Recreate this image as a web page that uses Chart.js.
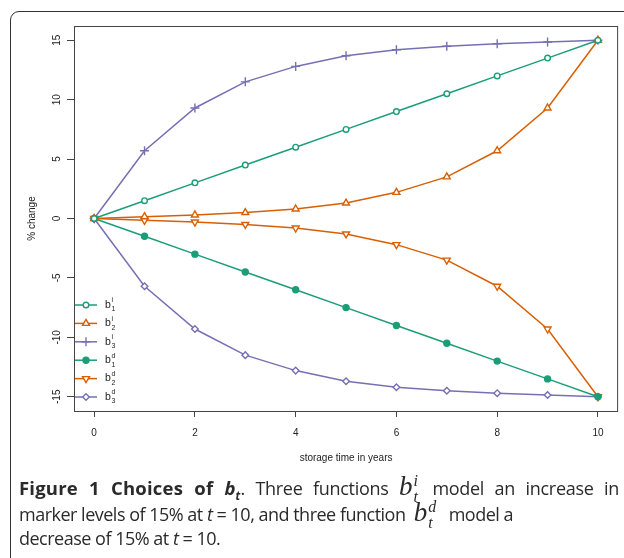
<!DOCTYPE html>
<html>
<head>
<meta charset="utf-8">
<script src="https://cdn.jsdelivr.net/npm/chart.js@4.4.0/dist/chart.umd.min.js"></script>
<style>
    body { margin: 0; background: #fff; }
    #wrap { position: relative; width: 624px; height: 558px; overflow: hidden; }
    #frame {
        position: absolute; left: 10px; top: 11px; width: 640px; height: 560px;
        border: 1.5px solid #333; border-radius: 9px; box-sizing: border-box;
    }
    canvas { position: absolute; left: 0; top: 0; }
    .cap {
        position: absolute; left: 19px; width: 600px; white-space: nowrap;
        font-family: "Open Sans", sans-serif; font-size: 18px; line-height: 24px;
        color: #2a2a2a; letter-spacing: -0.5px;
    }
    .cap.j { text-align: justify; text-align-last: justify; letter-spacing: -0.3px; }
    .cap b { letter-spacing: 0.2px; font-size: 18.5px; }
    .cap b sub { font-size: 62%; line-height: 0; }
    .cap .m { font-family: "Liberation Serif", serif; font-style: italic; font-size: 27px; letter-spacing: 0; }
    .cap .ss {
        display: inline-block; font-size: 16px; line-height: 16px; vertical-align: -7px;
        margin-left: 1px; margin-right: 4px;
    }
    .cap .ss span { display: block; }
</style>
</head>
<body>
<div id="wrap">
    <div id="frame"></div>
    <canvas id="chart" width="624" height="558"></canvas>
    <div class="cap j" style="top:473px"><b>Figure 1 Choices of <i>b<sub>t</sub></i></b>. Three functions <span class="m">b<span class="ss"><span>i</span><span>t</span></span></span> model an increase in</div>
    <div class="cap" style="top:499px">marker levels of 15% at <i>t</i> = 10, and three function &nbsp;<span class="m">b<span class="ss"><span>d</span><span>t</span></span></span>&nbsp; model a</div>
    <div class="cap" style="top:526px">decrease of 15% at <i>t</i> = 10.</div>
</div>
<script>
// data
const years = [0, 1, 2, 3, 4, 5, 6, 7, 8, 9, 10];
const b1i = [0, 1.5, 3, 4.5, 6, 7.5, 9, 10.5, 12, 13.5, 15];
const b2i = [0, 0.15, 0.3, 0.5, 0.8, 1.3, 2.2, 3.5, 5.7, 9.3, 15];
const b3i = [0, 5.7, 9.3, 11.5, 12.8, 13.7, 14.2, 14.5, 14.7, 14.85, 15];
const b1d = [0, -1.5, -3, -4.5, -6, -7.5, -9, -10.5, -12, -13.5, -15];
const b2d = [0, -0.15, -0.3, -0.5, -0.8, -1.3, -2.2, -3.5, -5.7, -9.3, -15];
const b3d = [0, -5.7, -9.3, -11.5, -12.8, -13.7, -14.2, -14.5, -14.7, -14.85, -15];
const xTicks = [0, 2, 4, 6, 8, 10];
const yTicks = [-15, -10, -5, 0, 5, 10, 15];
const legendSup = ["i", "i", "i", "d", "d", "d"];
const legendSub = ["1", "2", "3", "1", "2", "3"];

const green = "#1b9e77";
const orange = "#d95f02";
const purple = "#7570b3";

function series(values, color, style, radius, fill, rotation) {
    return {
        data: values.map((v, i) => ({ x: years[i], y: v })),
        borderColor: color,
        borderWidth: 1.5,
        pointStyle: style,
        pointRadius: radius,
        pointBorderWidth: 1.4,
        pointBorderColor: color,
        pointBackgroundColor: fill,
        pointRotation: rotation || 0,
        tension: 0
    };
}

const datasets = [
    series(b1i, green, "circle", 2.8, "#fff"),
    series(b2i, orange, "triangle", 4, "#fff"),
    series(b3i, purple, "cross", 4.5, "#fff"),
    series(b1d, green, "circle", 3, green),
    series(b2d, orange, "triangle", 4, "#fff", 180),
    series(b3d, purple, "rectRot", 3.3, "#fff")
];

const FONT = "Liberation Sans, Arial, sans-serif";

const decor = {
    id: "decor",
    afterDraw(chart) {
        const ctx = chart.ctx;
        const a = chart.chartArea;
        const ys = chart.scales.y;
        ctx.save();
        // box
        ctx.strokeStyle = "#444";
        ctx.lineWidth = 1;
        ctx.strokeRect(a.left + 0.5, a.top + 0.5, a.right - a.left - 1, a.bottom - a.top);
        // y tick labels (rotated)
        ctx.fillStyle = "#222";
        ctx.font = "10px " + FONT;
        ctx.textAlign = "center";
        ctx.textBaseline = "middle";
        yTicks.forEach(v => {
            ctx.save();
            ctx.translate(57, ys.getPixelForValue(v));
            ctx.rotate(-Math.PI / 2);
            ctx.fillText(String(v), 0, 0);
            ctx.restore();
        });
        // axis titles
        ctx.save();
        ctx.translate(32, ys.getPixelForValue(0));
        ctx.rotate(-Math.PI / 2);
        ctx.fillText("% change", 0, 0);
        ctx.restore();
        ctx.fillText("storage time in years", chart.scales.x.getPixelForValue(5), 458);
        // legend
        const y0 = 305, dy = 18.4;
        datasets.forEach((ds, i) => {
            const y = y0 + i * dy;
            ctx.strokeStyle = ds.borderColor;
            ctx.lineWidth = 1.5;
            ctx.beginPath();
            ctx.moveTo(75, y);
            ctx.lineTo(97, y);
            ctx.stroke();
            ctx.fillStyle = ds.pointBackgroundColor;
            ctx.lineWidth = ds.pointBorderWidth;
            Chart.helpers.drawPoint(ctx, {
                pointStyle: ds.pointStyle,
                radius: ds.pointRadius,
                rotation: ds.pointRotation,
                borderWidth: ds.pointBorderWidth
            }, 86, y);
            ctx.fillStyle = "#222";
            ctx.textAlign = "left";
            ctx.font = "10.5px " + FONT;
            ctx.fillText("b", 105, y);
            ctx.font = "7px " + FONT;
            ctx.fillText(legendSup[i], 111.5, y - 4.5);
            ctx.fillText(legendSub[i], 111.5, y + 4.5);
        });
        ctx.restore();
    }
};

new Chart(document.getElementById("chart"), {
    type: "scatter",
    data: { datasets: datasets.map(d => Object.assign({ showLine: true }, d)) },
    options: {
        responsive: false,
        animation: false,
        layout: { padding: { top: 26, right: 1.5, left: 0, bottom: 117 } },
        plugins: { legend: { display: false }, tooltip: { enabled: false } },
        scales: {
            x: {
                type: "linear",
                min: -0.4,
                max: 10.4,
                afterBuildTicks: s => { s.ticks = xTicks.map(v => ({ value: v })); },
                afterFit: s => { s.height = 30; },
                grid: { drawOnChartArea: false, drawTicks: true, tickLength: 6, color: "#444", tickColor: "#444" },
                border: { display: false },
                ticks: { color: "#222", font: { family: FONT, size: 10 }, padding: 10, maxRotation: 0 }
            },
            y: {
                type: "linear",
                min: -16.2,
                max: 16.2,
                afterBuildTicks: s => { s.ticks = yTicks.map(v => ({ value: v })); },
                afterFit: s => { s.width = 74; },
                grid: { drawOnChartArea: false, drawTicks: true, tickLength: 7, color: "#444", tickColor: "#444" },
                border: { display: false },
                ticks: { color: "rgba(0,0,0,0)", font: { family: FONT, size: 10 } }
            }
        }
    },
    plugins: [decor]
});
</script>
</body>
</html>
